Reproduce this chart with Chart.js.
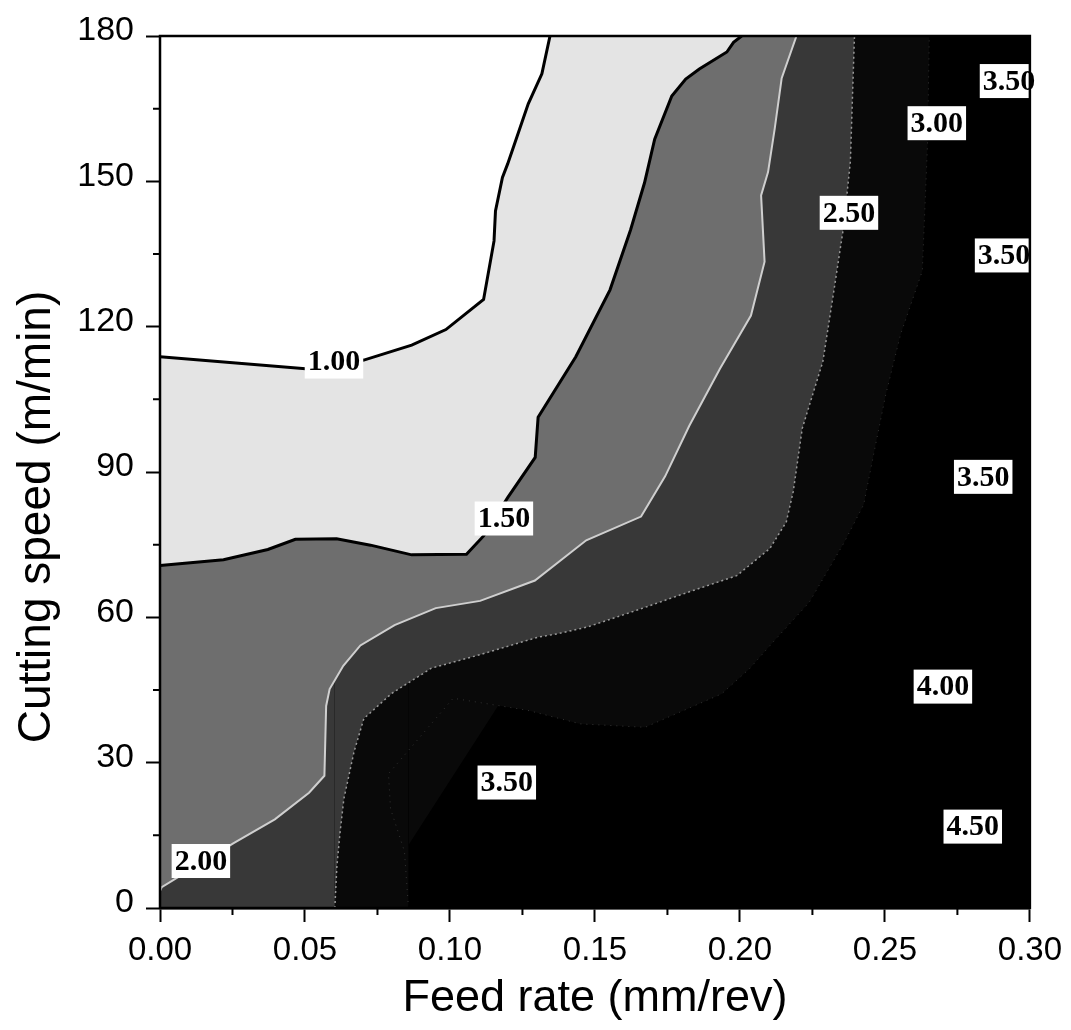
<!DOCTYPE html>
<html>
<head>
<meta charset="utf-8">
<title>Contour: cutting speed vs feed rate</title>
<script src="https://cdn.jsdelivr.net/npm/chart.js@4.4.1/dist/chart.umd.min.js"></script>
<style>
  html, body { margin: 0; padding: 0; background: #fff; }
  #wrap { width: 1071px; height: 1030px; }
</style>
</head>
<body>
<div id="wrap"><canvas id="chart" width="1071" height="1030"></canvas></div>
<script>
// ── Axis ticks ──────────────────────────────────────────

const X_TICKS = [0, 0.05, 0.10, 0.15, 0.20, 0.25, 0.30];
const Y_TICKS = [0, 30, 60, 90, 120, 150, 180];
const X_MINOR = [0.025, 0.075, 0.125, 0.175, 0.225, 0.275];
const Y_MINOR = [15, 45, 75, 105, 135, 165];

const X_TITLE = 'Feed rate (mm/rev)';
const Y_TITLE = 'Cutting speed (m/min)';

// ── Contour lines (feed rate, cutting speed) ────────────

const C100_X = [0, 0.0502, 0.0703, 0.0868, 0.0986, 0.1116, 0.1152, 0.1157, 0.1181, 0.1199, 0.1270, 0.1317, 0.1345];
const C100_Y = [113.8, 111.3, 113.1, 116.2, 119.4, 125.6, 137.7, 143.9, 150.8, 153.6, 166.0, 172.2, 180];

const C150_X = [0, 0.0219, 0.0372, 0.0467, 0.0609, 0.0726, 0.0868, 0.1057, 0.1116, 0.1199, 0.1294, 0.1304,
  0.1434, 0.1552, 0.1623, 0.1671, 0.1706, 0.1765, 0.1813, 0.1860, 0.1955, 0.1978, 0.2006];
const C150_Y = [70.7, 71.9, 74.0, 76.1, 76.2, 74.9, 72.9, 73.0, 76.8, 84.7, 93.0, 101.3,
  113.8, 127.6, 140.0, 149.7, 158.7, 167.6, 171.1, 173.2, 176.7, 178.7, 180];

const C200_X = [0, 0.0006, 0.0254, 0.0396, 0.0514, 0.0567, 0.0573, 0.0585, 0.0632, 0.0691, 0.0809, 0.0951,
  0.1104, 0.1293, 0.1470, 0.1659, 0.1742, 0.1825, 0.1931, 0.2038, 0.2085, 0.2073, 0.2097, 0.2120, 0.2144, 0.2195];
const C200_Y = [3.5, 4.3, 13.4, 18.3, 23.8, 27.3, 41.7, 45.2, 50.0, 54.2, 58.4, 61.9,
  63.4, 67.6, 75.9, 80.8, 89.1, 99.5, 111.3, 122.3, 133.4, 147.1, 151.9, 160.9, 171.3, 180];

const C250_X = [0, 0.0603, 0.0610, 0.0621, 0.0634, 0.0669, 0.0703, 0.0799, 0.0936, 0.1104, 0.1303, 0.1371,
  0.1474, 0.1646, 0.1817, 0.1989, 0.2103, 0.2160, 0.2184, 0.2215, 0.2286, 0.2322, 0.2357, 0.2381, 0.2395];
const C250_Y = [0, 0, 8.6, 15.6, 22.5, 32.2, 39.1, 44.3, 49.5, 52.3, 55.9, 56.6,
  58.0, 61.5, 65.1, 68.6, 74.2, 79.7, 86.0, 99.0, 112.8, 126.6, 140.4, 154.1, 180];

const C300_X = [0, 0.0857, 0.0843, 0.0795, 0.0788, 0.1011, 0.1268, 0.1450, 0.1673, 0.1937, 0.2033,
  0.2119, 0.2239, 0.2359, 0.2427, 0.2461, 0.2503, 0.2554, 0.2629, 0.2647, 0.2653];
const C300_Y = [0, 0, 11.7, 20.5, 27.7, 43.3, 40.8, 38.0, 37.3, 44.2, 49.4,
  55.2, 63.1, 75.4, 83.3, 93.6, 106.0, 118.4, 131.5, 157.7, 180];

// ── Contour labels ──────────────────────────────────────

const LABEL_TEXT = ['1.00', '1.50', '2.00', '2.50', '3.00', '3.50', '3.50', '3.50', '3.50', '4.00', '4.50'];
const LABEL_X = [0.0600, 0.1186, 0.0141, 0.2376, 0.2679, 0.2928, 0.2911, 0.2839, 0.1196, 0.2700, 0.2803];
const LABEL_Y = [112.8, 80.4, 9.7, 143.5, 162.0, 170.7, 134.7, 89.0, 25.9, 45.7, 16.8];

// ── Helpers ─────────────────────────────────────────────

const SANS = "'Liberation Sans', Arial, Helvetica, sans-serif";
Chart.defaults.color = '#000';
Chart.defaults.font.family = SANS;

function toPoints(xs, ys) {
  return xs.map((x, i) => ({ x, y: ys[i] }));
}

// band below a contour value = region above/left of its line, filled to the top edge
function contour(xs, ys, fillColor, lineColor, width, dash, hideBase) {
  return {
    data: toPoints(xs, ys),
    backgroundColor: fillColor,
    borderColor: lineColor,
    borderWidth: width,
    borderDash: dash || [],
    fill: 'end',
    tension: 0,
    pointRadius: 0,
    segment: hideBase ? { borderColor: c => (c.p0DataIndex === 0 ? 'rgba(0,0,0,0)' : undefined) } : undefined,
  };
}

const plotBackground = {
  id: 'plotBackground',
  beforeDatasetsDraw(chart) {
    const { ctx, chartArea: a } = chart;
    ctx.save();
    ctx.fillStyle = '#000';
    ctx.fillRect(a.left, a.top, a.width, a.height);
    ctx.restore();
  },
};

const contourLabels = {
  id: 'contourLabels',
  afterDatasetsDraw(chart) {
    const { ctx, scales: { x, y } } = chart;
    ctx.save();
    ctx.font = "bold 30px 'Liberation Serif', 'Times New Roman', serif";
    ctx.textAlign = 'center';
    ctx.textBaseline = 'middle';
    LABEL_TEXT.forEach((t, i) => {
      const px = x.getPixelForValue(LABEL_X[i]);
      const py = y.getPixelForValue(LABEL_Y[i]);
      const w = ctx.measureText(t).width + 6;
      const h = 34;
      ctx.fillStyle = '#fff';
      ctx.fillRect(px - w / 2, py - h / 2, w, h);
      ctx.fillStyle = '#000';
      ctx.fillText(t, px, py + 1);
    });
    ctx.restore();
  },
};

// y title sits a bit below the axis middle in the original
const yTitle = {
  id: 'yTitle',
  afterDraw(chart) {
    const { ctx, chartArea: a } = chart;
    ctx.save();
    ctx.translate(37, (a.top + a.bottom) / 2 + 45);
    ctx.rotate(-Math.PI / 2);
    ctx.font = '46px ' + SANS;
    ctx.fillStyle = '#000';
    ctx.textAlign = 'center';
    ctx.textBaseline = 'middle';
    ctx.fillText(Y_TITLE, 0, 0);
    ctx.restore();
  },
};

const frameAndMinor = {
  id: 'frameAndMinor',
  afterDraw(chart) {
    const { ctx, chartArea: a, scales: { x, y } } = chart;
    ctx.save();
    ctx.strokeStyle = '#000';
    ctx.lineWidth = 2;
    ctx.beginPath();
    X_MINOR.forEach(v => {
      const px = x.getPixelForValue(v);
      ctx.moveTo(px, a.bottom);
      ctx.lineTo(px, a.bottom + 7);
    });
    Y_MINOR.forEach(v => {
      const py = y.getPixelForValue(v);
      ctx.moveTo(a.left, py);
      ctx.lineTo(a.left - 7, py);
    });
    ctx.stroke();
    ctx.lineWidth = 2.5;
    ctx.strokeRect(a.left, a.top, a.width, a.height);
    ctx.restore();
  },
};

// ── Chart ───────────────────────────────────────────────

new Chart(document.getElementById('chart'), {
  type: 'line',
  data: {
    datasets: [
      contour(C100_X, C100_Y, '#ffffff', '#000', 3),
      contour(C150_X, C150_Y, '#e4e4e4', '#000', 3),
      contour(C200_X, C200_Y, '#6e6e6e', '#cfcfcf', 2),
      contour(C250_X, C250_Y, '#383838', '#9a9a9a', 1.5, [2, 3], true),
      contour(C300_X, C300_Y, '#090909', '#333', 1, [1, 5], true),
    ],
  },
  options: {
    responsive: false,
    animation: false,
    devicePixelRatio: 1,
    layout: { padding: { left: 0, top: 36, right: 36, bottom: 0 } },
    plugins: {
      legend: { display: false },
      tooltip: { enabled: false },
    },
    scales: {
      x: {
        type: 'linear',
        min: 0,
        max: 0.3,
        afterFit: s => { s.height = 122; },
        afterBuildTicks: s => { s.ticks = X_TICKS.map(v => ({ value: v })); },
        grid: { drawOnChartArea: false, drawTicks: true, tickLength: 14, tickWidth: 2, tickColor: '#000' },
        border: { display: true, color: '#000', width: 2.5 },
        ticks: { font: { size: 33 }, padding: 9, maxRotation: 0, callback: v => v.toFixed(2) },
        title: {
          display: true,
          text: X_TITLE,
          font: { size: 45, lineHeight: 1 },
          padding: { top: 0, bottom: 9 },
        },
      },
      y: {
        type: 'linear',
        min: 0,
        max: 180,
        afterFit: s => { s.width = 160; },
        afterBuildTicks: s => { s.ticks = Y_TICKS.map(v => ({ value: v })); },
        grid: { drawOnChartArea: false, drawTicks: true, tickLength: 14, tickWidth: 2, tickColor: '#000' },
        border: { display: true, color: '#000', width: 2.5 },
        ticks: { font: { size: 34 }, padding: 12, labelOffset: -5 },
        title: { display: false },
      },
    },
  },
  plugins: [plotBackground, contourLabels, frameAndMinor, yTitle],
});
</script>
</body>
</html>
